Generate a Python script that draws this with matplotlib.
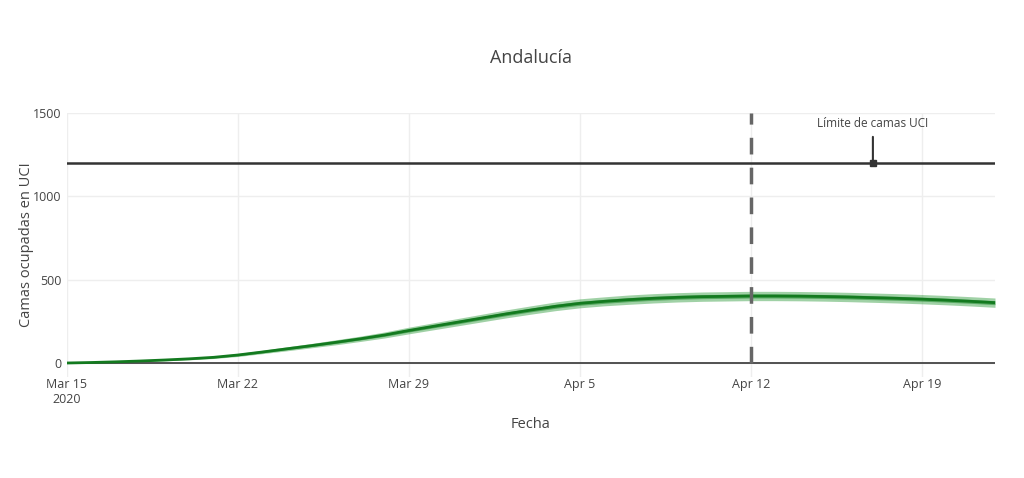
import numpy as np
import pandas as pd
import matplotlib
matplotlib.use("Agg")
import matplotlib.pyplot as plt

plt.rcParams['font.family'] = ['Open Sans', 'DejaVu Sans']

# datos
fechas = pd.date_range("2020-03-15", "2020-04-22", freq="D")
camas = [0, 3, 7, 12, 18, 25, 34, 48, 66, 85, 104, 124, 145, 168,
         195, 220, 245, 270, 295, 318, 340, 358, 370, 380, 388, 394, 398,
         400, 402, 402, 401, 399, 396, 392, 388, 383, 377, 370, 362]
banda_int = [0, 1, 1, 2, 2, 3, 3, 4, 5, 5, 6, 7, 7, 8,
             9, 9, 10, 10, 11, 11, 12, 12, 12, 12, 12, 12, 12,
             12, 12, 12, 12, 12, 12, 12, 12, 12, 12, 12, 12]
banda_ext = [0, 2, 3, 4, 5, 6, 7, 9, 10, 12, 13, 15, 16, 18,
             20, 21, 22, 23, 24, 25, 26, 27, 27, 28, 28, 28, 28,
             28, 28, 28, 28, 28, 28, 28, 28, 28, 28, 28, 28]
limite_uci = 1200
fecha_vline = "2020-04-12"
fecha_anot = "2020-04-17"

camas = np.array(camas)
bi = np.array(banda_int)
be = np.array(banda_ext)

fig = plt.figure(figsize=(10.24, 4.78), dpi=100)
ax = fig.add_axes([67/1024, 1-377/478, (995-67)/1024, (377-113)/478])

ax.fill_between(fechas, camas - be, camas + be, color="#2e9b3a", alpha=0.45, lw=0)
ax.fill_between(fechas, camas - bi, camas + bi, color="#1f8a2c", alpha=0.55, lw=0)
ax.plot(fechas, camas, color="#137a1f", lw=2)

ax.plot([fechas[0], fechas[-1]], [limite_uci, limite_uci], color="#333333", lw=1.8)
ax.plot([pd.Timestamp(fecha_vline)] * 2, [0, 1500], color="#666666", lw=2.5,
        dashes=(4.8, 3.8))

ax.annotate("Límite de camas UCI", xy=(pd.Timestamp(fecha_anot), limite_uci),
            xytext=(0, 28.5), textcoords="offset points", ha="center", va="center",
            fontsize=8.5, color="#444444",
            arrowprops=dict(arrowstyle="-", color="#333333",
                            lw=1.5, shrinkA=3, shrinkB=0))
ax.plot([pd.Timestamp(fecha_anot)], [limite_uci], marker="s", ms=5, color="#333333")

ax.axhline(0, color="#444444", lw=1.3, zorder=1)

ax.set_xlim(fechas[0], fechas[-1])
ax.set_ylim(-84, 1500)
ax.set_yticks([0, 500, 1000, 1500])
ticks = pd.date_range("2020-03-15", "2020-04-19", freq="7D")
ax.set_xticks(ticks)
ax.set_xticklabels(["Mar 15\n2020"] + [t.strftime("%b ") + str(t.day) for t in ticks[1:]])
ax.grid(True, color="#eeeeee", lw=1)
ax.set_axisbelow(True)
for s in ax.spines.values():
    s.set_visible(False)
ax.tick_params(length=0, labelsize=9, colors="#444444", pad=4)
ax.tick_params(axis="x", pad=0.5)

ax.set_xlabel("Fecha", fontsize=10.5, color="#444444", labelpad=8)
ax.set_ylabel("Camas ocupadas en UCI", fontsize=10.5, color="#444444", labelpad=-1)
fig.text(531/1024, 1-58/478, "Andalucía", ha="center", va="center",
         fontsize=13, color="#444444")

fig.savefig("out.png", dpi=100)
